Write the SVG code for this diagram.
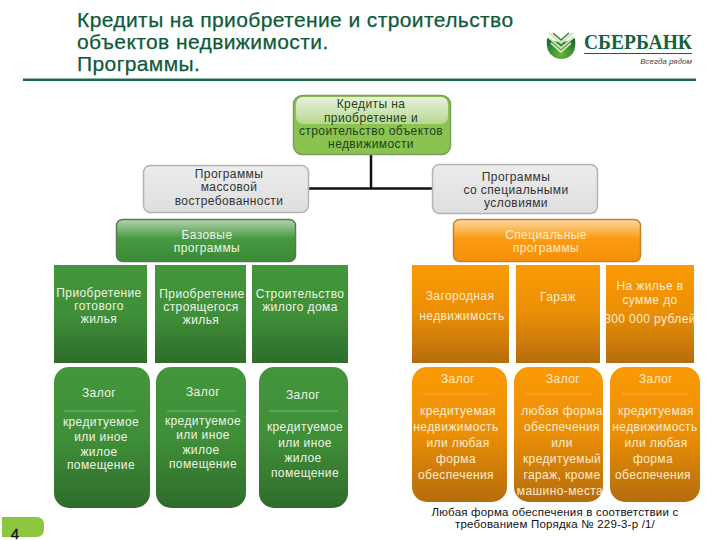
<svg xmlns="http://www.w3.org/2000/svg" width="720" height="540" viewBox="0 0 720 540">
<defs>
<linearGradient id="gg" x1="0" y1="0" x2="0" y2="1"><stop offset="0" stop-color="#43963b"/><stop offset="0.5" stop-color="#3f8f38"/><stop offset="1" stop-color="#2f6c2c"/></linearGradient>
<linearGradient id="og" x1="0" y1="0" x2="0" y2="1"><stop offset="0" stop-color="#fb9a04"/><stop offset="0.5" stop-color="#e98e06"/><stop offset="1" stop-color="#b56d0c"/></linearGradient>
<linearGradient id="gb" x1="0" y1="0" x2="0" y2="1"><stop offset="0" stop-color="#b5d3ad"/><stop offset="0.45" stop-color="#479a40"/><stop offset="1" stop-color="#3b8a36"/></linearGradient>
<linearGradient id="ob" x1="0" y1="0" x2="0" y2="1"><stop offset="0" stop-color="#fcd9a0"/><stop offset="0.45" stop-color="#fb9c14"/><stop offset="1" stop-color="#f58f06"/></linearGradient>
<linearGradient id="gloss" x1="0" y1="0" x2="0" y2="1"><stop offset="0" stop-color="#e8f1dc"/><stop offset="1" stop-color="#b7d78f"/></linearGradient>
<linearGradient id="gr" x1="0" y1="0" x2="0" y2="1"><stop offset="0" stop-color="#ececec"/><stop offset="1" stop-color="#dedede"/></linearGradient>
<radialGradient id="lg" cx="0.5" cy="0.8" r="0.75"><stop offset="0" stop-color="#66b62f"/><stop offset="1" stop-color="#17702f"/></radialGradient>
</defs>
<style>
text{font-family:"Liberation Sans",Arial,sans-serif;text-anchor:middle}
.h{font-size:21px;letter-spacing:.4px;fill:#0e5a3a;text-anchor:start;stroke:#0e5a3a;stroke-width:.25px}
.d{font-size:12px;letter-spacing:.4px;fill:#333}
.r{font-size:12px;letter-spacing:.4px;fill:#1c4420}
.w{font-size:12px;letter-spacing:.4px;fill:#eef3e8}
.o{font-size:12px;letter-spacing:.4px;fill:#fdeccf}
.k{font-size:11.500px;letter-spacing:.2px;fill:#111}
.sep{stroke:#7fb878;stroke-width:1}
.sepo{stroke:#f3b14e;stroke-width:1}
</style>
<g id="header">
<text class="h" x="77" y="27">Кредиты на приобретение и строительство</text>
<text class="h" x="77" y="49">объектов недвижимости.</text>
<text class="h" x="77" y="71">Программы.</text>
<rect x="23" y="78.500" width="673" height="2.500" fill="#1f6b45"/>
</g>
<g id="logo">
<path d="M547 38 Q560 46 575 38 Q577 52 569 57 Q561 61 554 57 Q545 52 547 38Z" fill="url(#lg)"/>
<path d="M549 33 L561 43 L573 33 M548 37 L561 48 L574 37 M551 43 L561 52 L571 43" fill="none" stroke="#cfe5b8" stroke-width="1.800"/>
<path d="M553 33 L561 40 L569 33" fill="none" stroke="#2c8a3a" stroke-width="1.600"/>
<text x="584" y="49" style="font-family:'Liberation Serif',serif;font-weight:bold;font-size:21px;text-anchor:start;fill:#14633c" textLength="108" lengthAdjust="spacingAndGlyphs">СБЕРБАНК</text>
<rect x="584" y="53" width="108" height="1" fill="#14633c"/>
<text x="692" y="64" style="font-size:8px;text-anchor:end;font-style:italic;fill:#444">Всегда рядом</text>
</g>
<g id="connectors" fill="none" stroke="#111" stroke-width="2.500">
<path d="M371 154V189"/>
<path d="M308 188.500H432"/>
</g>
<g id="root"><rect x="293.500" y="95.500" width="157" height="59" rx="9" fill="#8cc24f" stroke="#7c9e62" stroke-width="1.500"/><rect x="296" y="97" width="152" height="27" rx="7" fill="url(#gloss)"/>
<text class="r" x="371" y="108">Кредиты на</text><text class="r" x="371" y="122">приобретение и</text><text class="r" x="371" y="135">строительство объектов</text><text class="r" x="371" y="148">недвижимости</text></g>
<g id="mass"><rect x="143.500" y="165.500" width="165" height="47" rx="7" fill="url(#gr)" stroke="#b4b4b4" stroke-width="1.500"/>
<text class="d" x="229" y="178">Программы</text><text class="d" x="229" y="191">массовой</text><text class="d" x="229" y="205">востребованности</text></g>
<g id="special"><rect x="432.500" y="164.500" width="165" height="49" rx="7" fill="url(#gr)" stroke="#b4b4b4" stroke-width="1.500"/>
<text class="d" x="516" y="181">Программы</text><text class="d" x="516" y="194">со специальными</text><text class="d" x="516" y="207">условиями</text></g>
<g id="base"><rect x="116.500" y="219.500" width="179" height="42" rx="6" fill="url(#gb)" stroke="#56795a" stroke-width="1.500"/>
<text class="w" x="207" y="239">Базовые</text><text class="w" x="207" y="252">программы</text></g>
<g id="spec"><rect x="453.500" y="219.500" width="187" height="42" rx="6" fill="url(#ob)" stroke="#c4812a" stroke-width="1.500"/>
<text class="o" x="546" y="239">Специальные</text><text class="o" x="546" y="252">программы</text></g>

<g id="p1"><rect x="54" y="265" width="93" height="98" fill="url(#gg)"/><text class="w" x="99" y="297">Приобретение</text><text class="w" x="99" y="310">готового</text><text class="w" x="99" y="323">жилья</text></g>
<g id="p2"><rect x="155" y="265" width="91" height="98" fill="url(#gg)"/><text class="w" x="202" y="298">Приобретение</text><text class="w" x="201" y="311">строящегося</text><text class="w" x="201" y="324">жилья</text></g>
<g id="p3"><rect x="252" y="265" width="96" height="98" fill="url(#gg)"/><text class="w" x="300" y="298">Строительство</text><text class="w" x="300" y="311">жилого дома</text></g>

<g id="z1"><rect x="54" y="367" width="96" height="141" rx="15" fill="url(#gg)"/><text class="w" x="99" y="397">Залог</text><path class="sep" d="M64 411H135"/><text class="w" x="101" y="426">кредитуемое</text><text class="w" x="101" y="441">или иное</text><text class="w" x="99" y="456">жилое</text><text class="w" x="101" y="469">помещение</text></g>
<g id="z2"><rect x="156" y="367" width="90" height="141" rx="15" fill="url(#gg)"/><text class="w" x="203" y="396">Залог</text><path class="sep" d="M167 411H236"/><text class="w" x="203" y="425">кредитуемое</text><text class="w" x="203" y="439">или иное</text><text class="w" x="201" y="454">жилое</text><text class="w" x="203" y="468">помещение</text></g>
<g id="z3"><rect x="259" y="367" width="89" height="141" rx="15" fill="url(#gg)"/><text class="w" x="303" y="399">Залог</text><path class="sep" d="M269 411H338"/><text class="w" x="305" y="431">кредитуемое</text><text class="w" x="305" y="447">или иное</text><text class="w" x="303" y="462">жилое</text><text class="w" x="305" y="477">помещение</text></g>

<g id="s1"><rect x="412" y="265" width="97" height="98" fill="url(#og)"/><text class="o" x="460" y="300">Загородная</text><text class="o" x="462" y="320">недвижимость</text></g>
<g id="s2"><rect x="516" y="265" width="84" height="98" fill="url(#og)"/><text class="o" x="558" y="301">Гараж</text></g>
<g id="s3"><rect x="606" y="265" width="88" height="98" fill="url(#og)"/><text class="o" x="650" y="290">На жилье в</text><text class="o" x="650" y="304">сумме до</text><text class="o" x="650" y="323">300 000 рублей</text></g>

<g id="t1"><rect x="412" y="367" width="95" height="135" rx="15" fill="url(#og)"/><text class="o" x="458" y="383">Залог</text><path class="sepo" d="M423 394H489"/><text class="o" x="458" y="415">кредитуемая</text><text class="o" x="456" y="431">недвижимость</text><text class="o" x="458" y="447">или любая</text><text class="o" x="456" y="463">форма</text><text class="o" x="456" y="479">обеспечения</text></g>
<g id="t2"><rect x="514" y="367" width="89" height="135" rx="15" fill="url(#og)"/><text class="o" x="563" y="383">Залог</text><path class="sepo" d="M525 394H592"/><text class="o" x="562" y="415">любая форма</text><text class="o" x="562" y="431">обеспечения</text><text class="o" x="562" y="447">или</text><text class="o" x="562" y="463">кредитуемый</text><text class="o" x="562" y="479">гараж, кроме</text><text class="o" x="560" y="495">машино-места</text></g>
<g id="t3"><rect x="610" y="367" width="90" height="135" rx="15" fill="url(#og)"/><text class="o" x="656" y="383">Залог</text><path class="sepo" d="M622 394H688"/><text class="o" x="656" y="415">кредитуемая</text><text class="o" x="655" y="431">недвижимость</text><text class="o" x="656" y="447">или любая</text><text class="o" x="653" y="463">форма</text><text class="o" x="653" y="479">обеспечения</text></g>

<g id="note"><text class="k" x="555" y="516">Любая форма обеспечения в соответствии с</text><text class="k" x="555" y="528">требованием Порядка № 229-3-р /1/</text></g>
<g id="page"><path d="M2 517H36Q44 517 44 525V529Q44 537 36 537H2Z" fill="#8dc63f"/><text x="15" y="539" style="font-size:15px;fill:#111;stroke:#111;stroke-width:.3px">4</text></g>
</svg>
